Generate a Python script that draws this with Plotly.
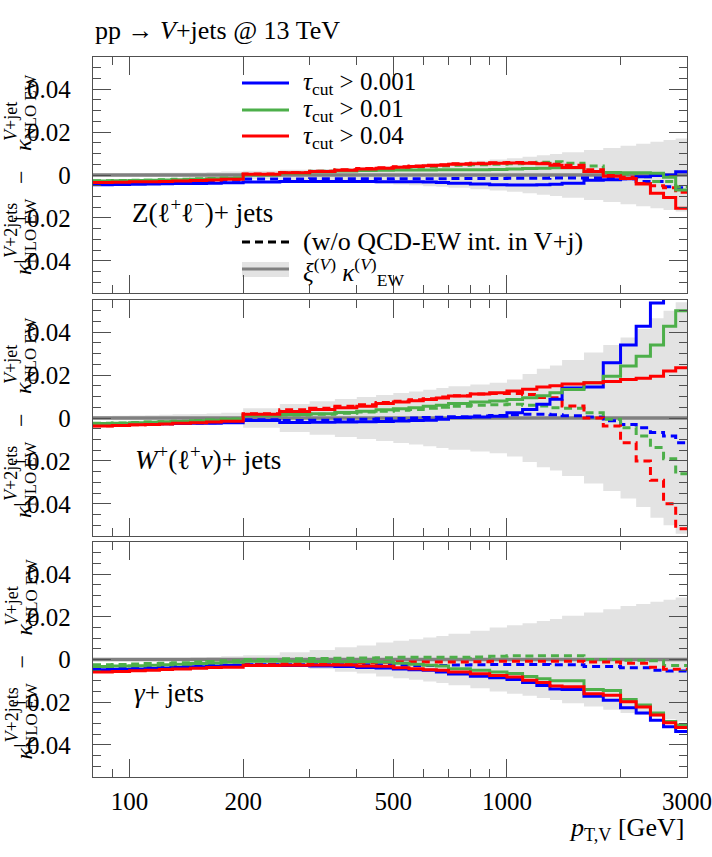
import plotly.graph_objects as go

# ---------------- data ----------------
bins = [80, 90, 100, 110, 120, 130, 145, 160, 175, 200, 250, 300, 350, 400, 450, 500, 550, 600, 650, 700,
        800, 900, 1000, 1100, 1200, 1300, 1400, 1600, 1800, 2000, 2200, 2400, 2600, 2800, 3000]

ref_line = [0.0, 0.0, 0.0, 0.0, 0.0, 0.0, 0.0, 0.0, 0.0, 0.0, 0.0, 0.0, 0.0, 0.0, 0.0, 0.0, 0.0,
            0.0, 0.0, 0.0, 0.0, 0.0, 0.0, 0.0, 0.0, 0.0, 0.0, 0.0, 0.0, 0.0, 0.0, 0.0, 0.0, 0.0]

# Z(l+l-) + jets
z_band = [0.0006, 0.0007, 0.0008, 0.0009, 0.001, 0.0011, 0.0012, 0.0014, 0.0016, 0.002, 0.0024, 0.0028,
          0.0032, 0.0036, 0.004, 0.0044, 0.0048, 0.0052, 0.0055, 0.006, 0.0066, 0.0072, 0.0078, 0.0085,
          0.0092, 0.0098, 0.0106, 0.0116, 0.0126, 0.0136, 0.0146, 0.0155, 0.0163, 0.017]
z_tau001 = [-0.0045, -0.0044, -0.0043, -0.0042, -0.0041, -0.004, -0.004, -0.0038, -0.0036, -0.0033, -0.003,
            -0.003, -0.003, -0.003, -0.0031, -0.0031, -0.0032, -0.0033, -0.0035, -0.0038, -0.0042, -0.0045,
            -0.0047, -0.0047, -0.0045, -0.0043, -0.0038, -0.0025, -0.0022, -0.0018, -0.0008, -0.0002, 0.0, 0.0015]
z_tau01 = [-0.0028, -0.0027, -0.0026, -0.0025, -0.0023, -0.0022, -0.002, -0.0018, -0.0016, 0.0, 0.0008,
           0.0015, 0.0019, 0.0021, 0.0022, 0.0023, 0.0023, 0.0023, 0.0024, 0.0024, 0.0025, 0.0026, 0.0028,
           0.003, 0.0032, 0.0034, 0.0034, 0.0016, 0.0012, 0.001, 0.001, 0.0008, -0.001, -0.007]
z_tau04 = [-0.0035, -0.0034, -0.0032, -0.0031, -0.003, -0.0028, -0.0026, -0.0023, -0.002, 0.0004, 0.001,
           0.0016, 0.0022, 0.0028, 0.0032, 0.0036, 0.004, 0.0043, 0.0046, 0.005, 0.0053, 0.0055, 0.0056,
           0.0055, 0.0052, 0.0045, 0.0035, 0.0016, -0.0006, -0.0016, -0.0042, -0.0085, -0.0105, -0.0155]
z_tau001_noint = [-0.0042, -0.0041, -0.004, -0.0038, -0.0036, -0.0034, -0.0031, -0.0027, -0.0024, -0.0019,
                  -0.0019, -0.0018, -0.0018, -0.0018, -0.0018, -0.0017, -0.0017, -0.0017, -0.0017, -0.0016,
                  -0.0016, -0.0016, -0.0015, -0.0015, -0.0015, -0.0014, -0.0014, -0.0014, -0.0015, -0.0018,
                  -0.003, -0.003, -0.0055, -0.006]
z_tau01_noint = [-0.0027, -0.0026, -0.0025, -0.0024, -0.0022, -0.002, -0.0018, -0.0016, -0.0014, 0.0002,
                 0.001, 0.0017, 0.0022, 0.0026, 0.003, 0.0033, 0.0036, 0.0039, 0.0042, 0.0045, 0.0048, 0.005,
                 0.0053, 0.0055, 0.006, 0.0062, 0.0055, 0.0042, 0.001, 0.0005, -0.0008, -0.003, -0.003, -0.0055]
z_tau04_noint = [-0.0034, -0.0033, -0.0031, -0.003, -0.0029, -0.0027, -0.0025, -0.0022, -0.0019, 0.0005,
                 0.0012, 0.0018, 0.0024, 0.003, 0.0034, 0.0038, 0.0042, 0.0045, 0.0048, 0.0052, 0.0055,
                 0.0057, 0.0058, 0.0057, 0.0055, 0.005, 0.0045, 0.0025, 0.0, -0.001, -0.004, -0.005, -0.006, -0.008]

# W+(l+nu) + jets
w_band = [0.0008, 0.001, 0.0012, 0.0013, 0.0015, 0.0017, 0.0019, 0.0021, 0.0024, 0.0045, 0.0065, 0.0078,
          0.0088, 0.0098, 0.0107, 0.0116, 0.0124, 0.0132, 0.014, 0.0148, 0.0156, 0.0164, 0.018, 0.0205,
          0.023, 0.0245, 0.027, 0.0305, 0.034, 0.0375, 0.0415, 0.0465, 0.05, 0.054]
w_tau001 = [-0.0031, -0.003, -0.0029, -0.0028, -0.0027, -0.0026, -0.0025, -0.0024, -0.0022, -0.0012, -0.0021,
            -0.002, -0.0019, -0.0018, -0.0016, -0.0014, -0.0012, -0.001, -0.0006, 0.0002, 0.0005, 0.0008,
            0.0025, 0.004, 0.0064, 0.0087, 0.014, 0.0145, 0.0257, 0.034, 0.0428, 0.0536, 0.065, 0.07]
w_tau01 = [-0.0026, -0.0024, -0.0022, -0.002, -0.0018, -0.0016, -0.0013, -0.001, -0.0006, 0.0012, 0.0016,
           0.002, 0.0026, 0.0032, 0.0038, 0.0043, 0.0048, 0.0055, 0.006, 0.0068, 0.0075, 0.0079, 0.0086,
           0.0094, 0.0104, 0.0118, 0.0133, 0.0164, 0.0195, 0.0242, 0.0288, 0.034, 0.0428, 0.05]
w_tau04 = [-0.0037, -0.0035, -0.0032, -0.003, -0.0028, -0.0025, -0.0022, -0.0019, -0.0015, 0.0017, 0.003,
           0.004, 0.0048, 0.0055, 0.0068, 0.0074, 0.008, 0.0086, 0.0093, 0.0102, 0.0112, 0.0118, 0.0126,
           0.0134, 0.0144, 0.015, 0.0158, 0.0164, 0.017, 0.018, 0.0185, 0.0195, 0.0219, 0.0234]
w_tau001_noint = [-0.0029, -0.0028, -0.0027, -0.0026, -0.0025, -0.0024, -0.0023, -0.0022, -0.002, -0.0008,
                  -0.0012, -0.001, -0.0008, -0.0006, -0.0004, -0.0002, 0.0, 0.0002, 0.0004, 0.0006, 0.0009,
                  0.0012, 0.0015, 0.0017, 0.0017, 0.0015, 0.001, 0.0005, -0.0013, -0.003, -0.0045, -0.0068,
                  -0.0084, -0.0115]
w_tau01_noint = [-0.0025, -0.0023, -0.0021, -0.0019, -0.0017, -0.0015, -0.0012, -0.0009, -0.0005, 0.0012,
                 0.0014, 0.0018, 0.0022, 0.0028, 0.0032, 0.0036, 0.004, 0.0045, 0.005, 0.0055, 0.006, 0.0062,
                 0.0064, 0.006, 0.0056, 0.0048, 0.0046, 0.0025, -0.0006, -0.0045, -0.0084, -0.0138, -0.019,
                 -0.026]
w_tau04_noint = [-0.0036, -0.0034, -0.0031, -0.0029, -0.0027, -0.0024, -0.0021, -0.0018, -0.0014, 0.002,
                 0.0038, 0.0046, 0.0055, 0.0062, 0.0072, 0.0078, 0.0085, 0.009, 0.0098, 0.0104, 0.0112,
                 0.0114, 0.0114, 0.011, 0.0096, 0.0094, 0.0056, 0.0, -0.0037, -0.0115, -0.02, -0.029,
                 -0.04, -0.0516]

# gamma + jets
g_band = [0.0002, 0.0002, 0.0003, 0.0004, 0.0005, 0.0007, 0.0009, 0.0012, 0.0015, 0.002, 0.0034, 0.0045,
          0.0057, 0.0065, 0.008, 0.0088, 0.0095, 0.0103, 0.011, 0.012, 0.0135, 0.015, 0.016, 0.017, 0.018,
          0.019, 0.0205, 0.022, 0.0235, 0.025, 0.026, 0.027, 0.028, 0.029]
g_tau001 = [-0.0048, -0.0046, -0.0044, -0.0042, -0.004, -0.0037, -0.0034, -0.0031, -0.0028, -0.0027, -0.0028,
            -0.003, -0.0033, -0.0037, -0.004, -0.0045, -0.0048, -0.005, -0.0058, -0.0068, -0.0078, -0.0086,
            -0.0094, -0.0108, -0.0122, -0.0138, -0.0141, -0.0172, -0.0191, -0.0226, -0.025, -0.0284, -0.0315,
            -0.0337]
g_tau01 = [-0.0033, -0.0031, -0.0029, -0.0027, -0.0025, -0.0022, -0.0019, -0.0016, -0.0013, -0.0008, -0.0008,
           -0.0009, -0.001, -0.0011, -0.0012, -0.0018, -0.0022, -0.0027, -0.003, -0.0043, -0.005, -0.0058,
           -0.0066, -0.0079, -0.009, -0.01, -0.01, -0.014, -0.0145, -0.0187, -0.0213, -0.025, -0.029, -0.0307]
g_tau04 = [-0.0059, -0.0056, -0.0053, -0.005, -0.0047, -0.0044, -0.0041, -0.0038, -0.0036, -0.0028, -0.0027,
           -0.0026, -0.0026, -0.003, -0.0032, -0.0039, -0.0043, -0.0048, -0.005, -0.0058, -0.0067, -0.0075,
           -0.0082, -0.0097, -0.0108, -0.0124, -0.0127, -0.016, -0.0167, -0.0198, -0.0222, -0.026, -0.0296,
           -0.0318]
g_tau001_noint = [-0.0042, -0.004, -0.0038, -0.0036, -0.0034, -0.0032, -0.003, -0.0028, -0.0026, -0.0025,
                  -0.0024, -0.0024, -0.0024, -0.0024, -0.0025, -0.0027, -0.0028, -0.0028, -0.0028, -0.0026,
                  -0.0024, -0.0023, -0.0023, -0.0023, -0.0023, -0.0025, -0.0025, -0.0033, -0.0033, -0.0039,
                  -0.0039, -0.005, -0.0054, -0.0054]
g_tau01_noint = [-0.0025, -0.0023, -0.0021, -0.0019, -0.0017, -0.0015, -0.0012, -0.0009, -0.0006, 0.0, 0.0003,
                 0.0005, 0.0006, 0.0007, 0.0008, 0.001, 0.001, 0.001, 0.001, 0.001, 0.0012, 0.0015, 0.0018,
                 0.0016, 0.0018, 0.0018, 0.0018, 0.0, 0.0, -0.0003, -0.0003, -0.0006, -0.0028, -0.0028]
g_tau04_noint = [-0.0055, -0.0052, -0.0049, -0.0046, -0.0043, -0.004, -0.0037, -0.0034, -0.0031, -0.0022,
                 -0.002, -0.0018, -0.0016, -0.0015, -0.0013, -0.0012, -0.0012, -0.0012, -0.0012, -0.0012,
                 -0.001, -0.0008, -0.0008, -0.0008, -0.0008, -0.0008, -0.0008, -0.0012, -0.0012, -0.0017,
                 -0.0017, -0.0036, -0.0046, -0.0046]

x_tickvals = [100, 200, 500, 1000, 3000]
x_ticktext = ["100", "200", "500", "1000", "3000"]
x_minor = [90, 300, 400, 600, 700, 800, 900, 2000]
y_tickvals = [-0.04, -0.02, 0, 0.02, 0.04]
y_ticktext = ["\u22120.04\u00a0", "\u22120.02\u00a0", "0\u00a0", "0.02\u00a0", "0.04\u00a0"]

legend_labels = ["<i>\u03c4</i><sub>cut</sub> > 0.001", "<i>\u03c4</i><sub>cut</sub> > 0.01",
                 "<i>\u03c4</i><sub>cut</sub> > 0.04"]
panel_labels = ["Z(\u2113<sup>+</sup>\u2113<sup>\u2212</sup>)+ jets",
                "<i>W</i><sup>+</sup>(\u2113<sup>+</sup><i>\u03bd</i>)+ jets",
                "<i>\u03b3</i>+ jets"]

# ---------------- styling ----------------
FONT = "Liberation Serif"
BLUE, GREEN, RED = "#0000ff", "#4daf4a", "#ff0000"
BAND = "#e3e3e3"
GREY = "#808080"
W, H = 712, 857
L, R, T, B = 93, 25, 57, 80
PW, PH = W - L - R, H - T - B


def px(x):
    return (x - L) / PW


def py(y):
    return (H - B - y) / PH


panels = [
    dict(band=z_band, sol=[z_tau001, z_tau01, z_tau04], das=[z_tau001_noint, z_tau01_noint, z_tau04_noint],
         top=57, bot=293, lab=(130, 211)),
    dict(band=w_band, sol=[w_tau001, w_tau01, w_tau04], das=[w_tau001_noint, w_tau01_noint, w_tau04_noint],
         top=300, bot=536, lab=(133, 458)),
    dict(band=g_band, sol=[g_tau001, g_tau01, g_tau04], das=[g_tau001_noint, g_tau01_noint, g_tau04_noint],
         top=542, bot=777, lab=(132, 693)),
]
colors = [BLUE, GREEN, RED]

fig = go.Figure()


def step(vals):
    return list(vals) + [vals[-1]]


for i, p in enumerate(panels):
    xa = "x" if i == 0 else f"x{i + 1}"
    ya = "y" if i == 0 else f"y{i + 1}"
    lower = [-b for b in p["band"]]
    upper = list(p["band"])
    fig.add_trace(go.Scatter(x=bins, y=step(lower), mode="lines", line=dict(width=0, shape="hv"),
                             xaxis=xa, yaxis=ya, showlegend=False, hoverinfo="skip"))
    fig.add_trace(go.Scatter(x=bins, y=step(upper), mode="lines", line=dict(width=0, shape="hv"),
                             fill="tonexty", fillcolor=BAND, xaxis=xa, yaxis=ya, showlegend=False,
                             hoverinfo="skip"))
    fig.add_trace(go.Scatter(x=bins, y=step(ref_line), mode="lines",
                             line=dict(color=GREY, width=3.5, shape="hv"),
                             xaxis=xa, yaxis=ya, showlegend=False))
    for vals, c in zip(p["das"], colors):
        fig.add_trace(go.Scatter(x=bins, y=step(vals), mode="lines",
                                 line=dict(color=c, width=3, shape="hv", dash="8px,5px"),
                                 xaxis=xa, yaxis=ya, showlegend=False))
    for vals, c in zip(p["sol"], colors):
        fig.add_trace(go.Scatter(x=bins, y=step(vals), mode="lines",
                                 line=dict(color=c, width=3, shape="hv"),
                                 xaxis=xa, yaxis=ya, showlegend=False))

axis_common = dict(showline=True, linecolor="#505050", linewidth=1.2, mirror="allticks",
                   ticks="inside", tickcolor="#505050", tickwidth=1, showgrid=False, zeroline=False,
                   automargin=False, tickfont=dict(family=FONT, size=25, color="#000"))

layout = dict(width=W, height=H, margin=dict(l=L, r=R, t=T, b=B, autoexpand=False), plot_bgcolor="white",
              paper_bgcolor="white", showlegend=False, font=dict(family=FONT, color="#000"))
for i, p in enumerate(panels):
    xk = "xaxis" if i == 0 else f"xaxis{i + 1}"
    yk = "yaxis" if i == 0 else f"yaxis{i + 1}"
    ya = "y" if i == 0 else f"y{i + 1}"
    xa = "x" if i == 0 else f"x{i + 1}"
    xd = dict(axis_common, type="log", range=[1.90309, 3.4771213], domain=[0, 1], anchor=ya,
              tickmode="array", tickvals=x_tickvals, ticktext=x_ticktext, ticklen=18,
              showticklabels=(i == 2), ticklabelstandoff=2,
              minor=dict(tickmode="array", tickvals=x_minor, ticks="inside", ticklen=8,
                         tickcolor="#505050"))
    if i > 0:
        xd["matches"] = "x"
    layout[xk] = xd
    layout[yk] = dict(axis_common, range=[-0.055, 0.055], domain=[py(p["bot"]), py(p["top"])], anchor=xa,
                      tickmode="array", tickvals=y_tickvals, ticktext=y_ticktext, ticklen=18,
                      ticklabelstandoff=10,
                      minor=dict(dtick=0.005, tick0=0, ticks="inside", ticklen=8, tickcolor="#505050"))
fig.update_layout(**layout)

ann = []
shapes = []


def text(t, x, y, size, xanchor="left", angle=0):
    ann.append(dict(text=t, x=px(x), y=py(y), xref="paper", yref="paper", xanchor=xanchor,
                    yanchor="middle", showarrow=False, textangle=angle, font=dict(family=FONT, size=size)))


# title
text("pp \u2192 <i>V</i>+jets @ 13 TeV", 93, 31, 26)
# y titles, stacked like the original (superscript column on the left)
for i, p in enumerate(panels):
    yc = (p["top"] + p["bot"]) / 2
    text("<i>\u03ba</i><sub>NLO EW</sub>", 25, yc + 62, 24, "center", -90)
    text("\u2212", 21, yc + 2, 24, "center", -90)
    text("<i>\u03ba</i><sub>NLO EW</sub>", 25, yc - 62, 24, "center", -90)
    text("<i>V</i>+2jets", 11, yc + 56, 18, "center", -90)
    text("<i>V</i>+jet", 11, yc - 53, 18, "center", -90)
    text(panel_labels[i], p["lab"][0], p["lab"][1], 27)
# x title
text("<i>p</i><sub>T,V</sub> [GeV]", 686, 829, 26, "right")

# legend (top panel)
leg_y = [83, 110, 136]
for yy, c, lab in zip(leg_y, colors, legend_labels):
    shapes.append(dict(type="line", xref="paper", yref="paper", x0=px(242), x1=px(289), y0=py(yy), y1=py(yy),
                       line=dict(color=c, width=3)))
    text(lab, 301, yy + 1, 25)
shapes.append(dict(type="line", xref="paper", yref="paper", x0=px(242), x1=px(289), y0=py(242), y1=py(242),
                   line=dict(color="black", width=3, dash="8px,5px")))
text("(w/o QCD-EW int. in V+j)", 301, 242, 26)
shapes.append(dict(type="rect", xref="paper", yref="paper", x0=px(242), x1=px(289), y0=py(277), y1=py(262),
                   fillcolor=BAND, line=dict(width=0), layer="below"))
shapes.append(dict(type="line", xref="paper", yref="paper", x0=px(242), x1=px(289), y0=py(269), y1=py(269),
                   line=dict(color=GREY, width=3)))
text("<i>\u03be</i><sup>(<i>V</i>)</sup> <i>\u03ba</i><sup>(<i>V</i>)</sup><sub>EW</sub>", 301, 272, 25)

fig.update_layout(annotations=ann, shapes=shapes)
fig.write_html("out.html")
